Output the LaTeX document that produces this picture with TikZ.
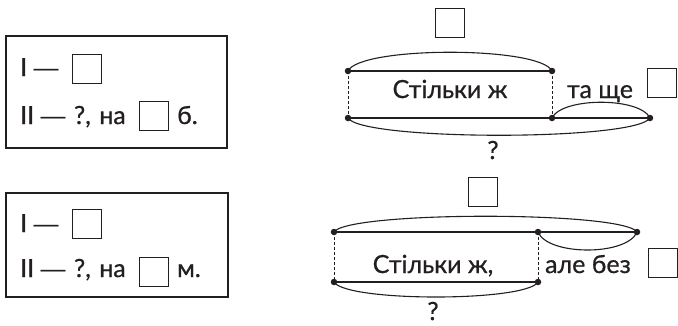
\documentclass[tikz,border=0pt]{standalone}
\usepackage{fontspec}
\setmainfont{Lato}[FakeBold=0.7]
\newfontfamily\dashfont{Liberation Sans}
\newcommand{\emd}{{\dashfont —}}
\definecolor{ink}{HTML}{231F20}
\tikzset{
  frame/.style={draw=ink, line width=2.4pt},
  sq/.style={draw=ink, line width=0.9pt, minimum width=29pt, minimum height=29pt, inner sep=0pt},
  txt/.style={text=ink, font=\fontsize{25}{28}\selectfont, inner sep=0pt},
  dot/.style={circle, fill=ink, inner sep=0pt, minimum size=6.5pt},
  seg/.style={draw=ink, line width=2.4pt},
  arcl/.style={draw=ink, line width=1.1pt},
  dsh/.style={draw=ink, line width=0.8pt, dash pattern=on 3pt off 2pt},
}
\begin{document}
\begin{tikzpicture}[x=1pt, y=-1pt]
\useasboundingbox (0,0) rectangle (678,325);
% ---- left boxes ----
\node[frame, minimum width=221pt, minimum height=112pt, inner sep=0pt] (box1) at (116.5,92) {};
\node[txt, anchor=base west] (t1a) at (20,76) {I \emd};
\node[sq] (s1a) at (86.5,69) {};
\node[txt, anchor=base west] (t1b) at (20,124) {II \emd\hspace{2pt} ?,\hspace{2pt} на};
\node[sq] (s1b) at (154,116) {};
\node[txt, anchor=base west] (t1c) at (177,124) {б.};

\node[frame, minimum width=222pt, minimum height=104pt, inner sep=0pt] (box2) at (117,245) {};
\node[txt, anchor=base west] (t2a) at (20,232) {I \emd};
\node[sq] (s2a) at (86.5,224) {};
\node[txt, anchor=base west] (t2b) at (20,277) {II \emd\hspace{2pt} ?,\hspace{2pt} на};
\node[sq] (s2b) at (154,271.5) {};
\node[txt, anchor=base west] (t2c) at (177,277) {м.};

% ---- top right diagram ----
\coordinate (a1) at (348,71);
\coordinate (a2) at (552,71);
\coordinate (b1) at (348,118);
\coordinate (b2) at (552,118);
\coordinate (b3) at (650,118);
\draw[dsh] (a1) -- (b1);
\draw[dsh] (a2) -- (b2);
\draw[seg] (a1) -- (a2);
\draw[seg] (b1) -- (b3);
\draw[arcl] (a1) .. controls (360,46) and (540,46) .. (a2);
\draw[arcl] (b2) .. controls (562,97) and (640,97) .. (b3);
\draw[arcl] (b1) .. controls (362,141) and (636,141) .. (b3);
\foreach \p in {a1,a2,b1,b2,b3} \node[dot] at (\p) {};
\node[sq] (s3) at (449.5,23) {};
\node[txt, anchor=base] (t3) at (450,98) {Стільки ж};
\node[txt, anchor=base] (t4) at (600,98) {та ще};
\node[sq] (s4) at (662,83) {};
\node[txt, anchor=base] (q1) at (493,159) {?};

% ---- bottom right diagram ----
\coordinate (c1) at (334,232);
\coordinate (c2) at (538,232);
\coordinate (c3) at (637,232);
\coordinate (d1) at (334,282);
\coordinate (d2) at (538,282);
\draw[dsh] (c1) -- (d1);
\draw[dsh] (c2) -- (d2);
\draw[seg] (c1) -- (c3);
\draw[seg] (d1) -- (d2);
\draw[arcl] (c1) .. controls (348,211) and (623,211) .. (c3);
\draw[arcl] (c2) .. controls (548,256) and (627,256) .. (c3);
\draw[arcl] (d1) .. controls (346,302) and (526,302) .. (d2);
\foreach \p in {c1,c2,c3,d1,d2} \node[dot] at (\p) {};
\node[sq] (s5) at (482.5,191.5) {};
\node[txt, anchor=base] (t5) at (433,273) {Стільки ж,};
\node[txt, anchor=base] (t6) at (588,273) {але без};
\node[sq] (s6) at (663,263) {};
\node[txt, anchor=base] (q2) at (433,320) {?};
\end{tikzpicture}
\end{document}
